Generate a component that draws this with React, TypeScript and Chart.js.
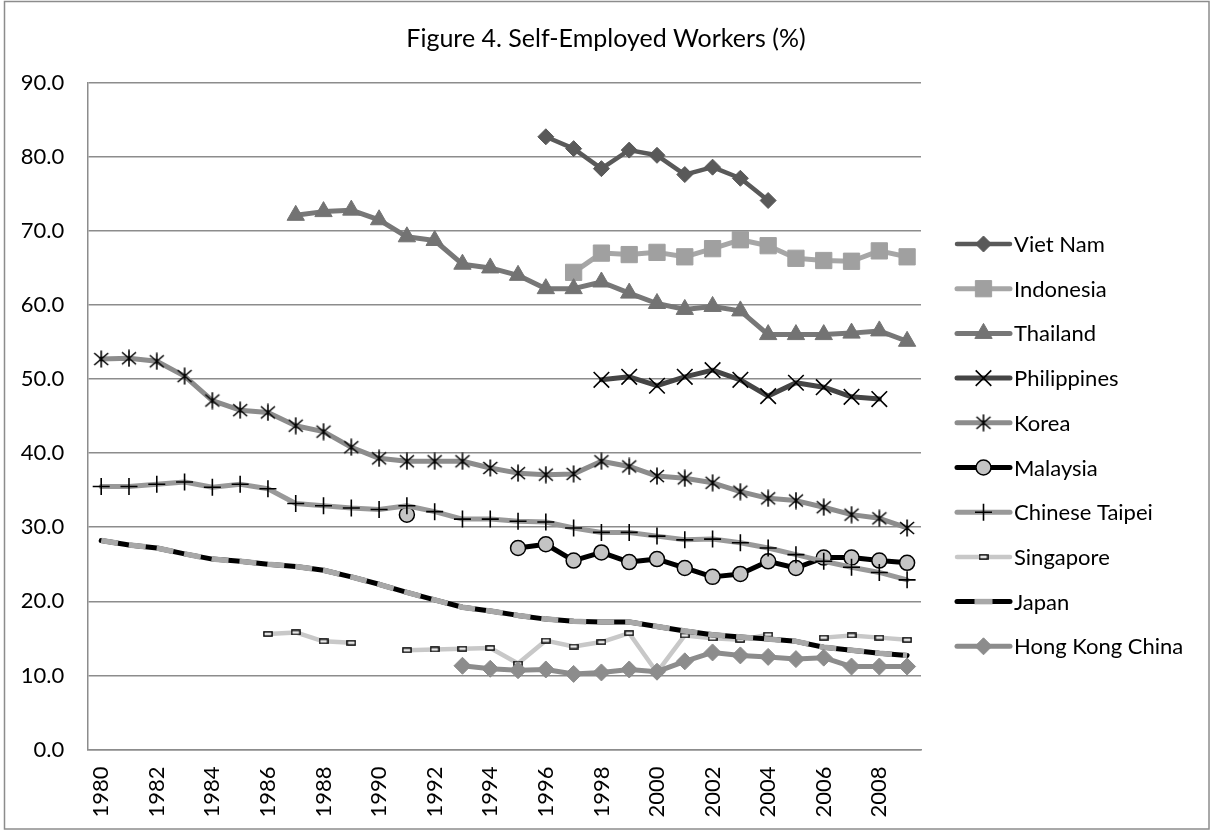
import React, { useEffect, useRef } from 'react';
import { Chart, registerables, PointElement } from 'chart.js';

Chart.register(...registerables);

const TITLE = 'Figure 4. Self-Employed Workers (%)';

const YEARS = [
  '1980', '1981', '1982', '1983', '1984', '1985', '1986', '1987', '1988', '1989',
  '1990', '1991', '1992', '1993', '1994', '1995', '1996', '1997', '1998', '1999',
  '2000', '2001', '2002', '2003', '2004', '2005', '2006', '2007', '2008', '2009',
];

const Y_TICKS = [0, 10, 20, 30, 40, 50, 60, 70, 80, 90];

const N = null;

const VIET_NAM = [N, N, N, N, N, N, N, N, N, N, N, N, N, N, N, N,
  82.7, 81.1, 78.4, 80.9, 80.2, 77.6, 78.6, 77.1, 74.1, N, N, N, N, N];

const INDONESIA = [N, N, N, N, N, N, N, N, N, N, N, N, N, N, N, N, N,
  64.4, 67.0, 66.8, 67.1, 66.5, 67.6, 68.8, 68.0, 66.3, 66.0, 65.9, 67.3, 66.5];

const THAILAND = [N, N, N, N, N, N, N,
  72.1, 72.6, 72.8, 71.5, 69.2, 68.7, 65.5, 65.0, 64.0, 62.2, 62.2, 63.1, 61.6,
  60.2, 59.4, 59.8, 59.2, 56.0, 56.0, 56.0, 56.2, 56.5, 55.1];

const PHILIPPINES = [N, N, N, N, N, N, N, N, N, N, N, N, N, N, N, N, N, N,
  49.9, 50.3, 49.1, 50.3, 51.2, 49.9, 47.7, 49.5, 48.9, 47.6, 47.3, N];

const KOREA = [52.7, 52.8, 52.4, 50.4, 47.1, 45.8, 45.5, 43.7, 42.9, 40.8,
  39.3, 38.9, 38.9, 38.9, 38.0, 37.3, 37.1, 37.2, 38.9, 38.2,
  36.9, 36.6, 36.0, 34.8, 33.9, 33.6, 32.7, 31.7, 31.2, 29.9];

const MALAYSIA = [N, N, N, N, N, N, N, N, N, N, N, 31.7, N, N, N,
  27.2, 27.7, 25.5, 26.6, 25.3, 25.7, 24.5, 23.3, 23.7, 25.4, 24.5, 25.9, 25.9, 25.5, 25.2];

const CHINESE_TAIPEI = [35.5, 35.5, 35.8, 36.1, 35.4, 35.8, 35.2, 33.2, 32.9, 32.6,
  32.4, 32.9, 32.1, 31.1, 31.1, 30.8, 30.7, 29.9, 29.3, 29.3,
  28.8, 28.3, 28.4, 27.9, 27.2, 26.3, 25.4, 24.6, 23.9, 22.9];

const SINGAPORE = [N, N, N, N, N, N, 15.6, 15.8, 14.6, 14.4, N,
  13.4, 13.5, 13.6, 13.7, 11.6, 14.7, 13.9, 14.5, 15.7, 10.4, 15.4, 15.0, 14.8, 15.5,
  N, 15.1, 15.4, 15.1, 14.8];

const JAPAN = [28.2, 27.6, 27.2, 26.4, 25.7, 25.4, 25.0, 24.7, 24.2, 23.3,
  22.3, 21.2, 20.2, 19.2, 18.7, 18.1, 17.6, 17.3, 17.2, 17.2,
  16.6, 16.0, 15.5, 15.2, 14.9, 14.6, 13.8, 13.4, 13.0, 12.7];

const HONG_KONG = [N, N, N, N, N, N, N, N, N, N, N, N, N,
  11.3, 10.9, 10.7, 10.8, 10.2, 10.4, 10.8, 10.5, 11.9, 13.1, 12.7, 12.5, 12.2, 12.4, 11.2, 11.2, 11.2];

const FONT = 'Lato, "Open Sans", sans-serif';

function makeStar(): HTMLCanvasElement {
  const c = document.createElement('canvas');
  c.width = 18; c.height = 18;
  const g = c.getContext('2d')!;
  g.strokeStyle = '#000';
  g.lineWidth = 1.6;
  g.beginPath();
  g.moveTo(9, 0.5); g.lineTo(9, 17.5);
  g.moveTo(2, 3); g.lineTo(16, 15);
  g.moveTo(16, 3); g.lineTo(2, 15);
  g.stroke();
  return c;
}

function makeSmallRect(): HTMLCanvasElement {
  const c = document.createElement('canvas');
  c.width = 10; c.height = 6;
  const g = c.getContext('2d')!;
  g.fillStyle = '#e6e6e6';
  g.fillRect(1, 1, 8, 4);
  g.strokeStyle = '#000';
  g.lineWidth = 1.4;
  g.strokeRect(0.9, 0.9, 8.2, 4.2);
  return c;
}

const App: React.FC = () => {
  const ref = useRef<HTMLCanvasElement | null>(null);

  useEffect(() => {
    document.body.style.margin = '0';
    const canvas = ref.current;
    if (!canvas) return;

    const star = makeStar();
    const smallRect = makeSmallRect();

    const series: any[] = [
      { label: 'Viet Nam', data: VIET_NAM, borderColor: '#595959', borderWidth: 4.5,
        pointStyle: 'rectRot', pointRadius: 8, pointBackgroundColor: '#595959', pointBorderColor: '#595959', pointBorderWidth: 1 },
      { label: 'Indonesia', data: INDONESIA, borderColor: '#a6a6a6', borderWidth: 5,
        pointStyle: 'rect', pointRadius: 11.5, pointBackgroundColor: '#a0a0a0', pointBorderColor: '#a0a0a0', pointBorderWidth: 1 },
      { label: 'Thailand', data: THAILAND, borderColor: '#777777', borderWidth: 5,
        pointStyle: 'triangle', pointRadius: 10, pointBackgroundColor: '#737373', pointBorderColor: '#737373', pointBorderWidth: 1 },
      { label: 'Philippines', data: PHILIPPINES, borderColor: '#454545', borderWidth: 5,
        pointStyle: 'crossRot', pointRadius: 11, pointBackgroundColor: '#000', pointBorderColor: '#000', pointBorderWidth: 1.6 },
      { label: 'Korea', data: KOREA, borderColor: '#8c8c8c', borderWidth: 5,
        pointStyle: star, pointRadius: 9, pointBackgroundColor: '#000', pointBorderColor: '#000', pointBorderWidth: 1.6 },
      { label: 'Malaysia', data: MALAYSIA, borderColor: '#000000', borderWidth: 5,
        pointStyle: 'circle', pointRadius: 7.5, pointBackgroundColor: '#c4c4c4', pointBorderColor: '#000', pointBorderWidth: 1.5 },
      { label: 'Chinese Taipei', data: CHINESE_TAIPEI, borderColor: '#999999', borderWidth: 5,
        pointStyle: 'cross', pointRadius: 8.5, pointBackgroundColor: '#000', pointBorderColor: '#000', pointBorderWidth: 1.6 },
      { label: 'Singapore', data: SINGAPORE, borderColor: '#c8c8c8', borderWidth: 4.5,
        pointStyle: smallRect, pointRadius: 5, pointBackgroundColor: '#e6e6e6', pointBorderColor: '#000', pointBorderWidth: 1.4 },
      { label: 'Japan', data: JAPAN, borderColor: '#000000', borderWidth: 5,
        pointStyle: 'circle', pointRadius: 0, pointBackgroundColor: '#000', pointBorderColor: '#000', pointBorderWidth: 0,
        dashOverlay: { color: '#a8a8a8', width: 5.5, dash: [17, 11] } },
      { label: 'Hong Kong China', data: HONG_KONG, borderColor: '#8c8c8c', borderWidth: 5,
        pointStyle: 'rectRot', pointRadius: 8.5, pointBackgroundColor: '#8c8c8c', pointBorderColor: '#8c8c8c', pointBorderWidth: 1 },
    ];

    const datasets: any[] = series.map((s, i) => ({
      ...s,
      order: 100 - i,
      fill: false,
      tension: 0,
      spanGaps: false,
      borderJoinStyle: 'round',
      borderCapStyle: 'round',
      pointHoverRadius: s.pointRadius,
    }));

    const dashPlugin = {
      id: 'dashOverlay',
      afterDatasetDraw(chart: any, args: any) {
        const ds = chart.data.datasets[args.index];
        if (!ds || !ds.dashOverlay) return;
        const ctx = chart.ctx as CanvasRenderingContext2D;
        const pts = args.meta.data;
        ctx.save();
        ctx.strokeStyle = ds.dashOverlay.color;
        ctx.lineWidth = ds.dashOverlay.width;
        ctx.lineCap = 'butt';
        ctx.lineJoin = 'round';
        ctx.setLineDash(ds.dashOverlay.dash);
        ctx.beginPath();
        let started = false;
        pts.forEach((p: any, i: number) => {
          if (ds.data[i] == null) { started = false; return; }
          if (!started) { ctx.moveTo(p.x, p.y); started = true; }
          else ctx.lineTo(p.x, p.y);
        });
        ctx.stroke();
        ctx.restore();
      },
    };

    const decor = {
      id: 'decor',
      afterDraw(chart: any) {
        const ctx = chart.ctx as CanvasRenderingContext2D;
        const area = chart.chartArea;
        ctx.save();
        ctx.strokeStyle = '#8c8c8c';
        ctx.lineWidth = 1.5;
        ctx.strokeRect(4.5, 1.5, 1204.5, 827.5);
        ctx.fillStyle = '#000';
        ctx.font = `25px ${FONT}`;
        ctx.textAlign = 'center';
        ctx.textBaseline = 'middle';
        ctx.fillText(TITLE, 606, 39);
        const items = chart.data.datasets;
        const x0 = area.right + 36;
        const x1 = x0 + 53;
        const xm = (x0 + x1) / 2;
        const top = 244;
        const step = 44.7;
        ctx.font = `22px ${FONT}`;
        ctx.textAlign = 'left';
        items.forEach((d: any, i: number) => {
          const y = top + i * step;
          ctx.save();
          ctx.lineCap = 'round';
          ctx.strokeStyle = d.borderColor;
          ctx.lineWidth = d.borderWidth;
          ctx.beginPath();
          ctx.moveTo(x0, y);
          ctx.lineTo(x1, y);
          ctx.stroke();
          if (d.dashOverlay) {
            ctx.lineCap = 'butt';
            ctx.strokeStyle = d.dashOverlay.color;
            ctx.lineWidth = d.dashOverlay.width;
            ctx.beginPath();
            ctx.moveTo(xm - 9, y);
            ctx.lineTo(xm + 9, y);
            ctx.stroke();
          }
          ctx.restore();
          if (d.pointRadius > 0) {
            const pt: any = new (PointElement as any)({});
            pt.x = xm;
            pt.y = y;
            pt.skip = false;
            pt.options = {
              pointStyle: d.pointStyle,
              radius: d.pointRadius,
              rotation: 0,
              borderWidth: d.pointBorderWidth,
              backgroundColor: d.pointBackgroundColor,
              borderColor: d.pointBorderColor,
            };
            pt.draw(ctx, { left: 0, top: 0, right: 5000, bottom: 5000 });
          }
          ctx.fillStyle = '#000';
          ctx.textBaseline = 'middle';
          ctx.fillText(d.label, x1 + 4, y + 1);
        });
        ctx.restore();
      },
    };

    const chart = new Chart(canvas, {
      type: 'line',
      data: { labels: YEARS, datasets },
      options: {
        responsive: false,
        animation: false,
        events: [],
        layout: { padding: { top: 82.7, left: 0, right: 290, bottom: 0 } },
        plugins: {
          legend: { display: false },
          title: { display: false },
          tooltip: { enabled: false },
        },
        scales: {
          x: {
            type: 'category',
            offset: true,
            grid: { display: false, drawTicks: false },
            border: { display: true, color: '#8c8c8c', width: 1.5 },
            ticks: {
              autoSkip: false,
              maxRotation: 90,
              minRotation: 90,
              padding: 17,
              color: '#000',
              font: { family: FONT, size: 22 },
              callback: (_v: any, idx: number) => (idx % 2 === 0 ? YEARS[idx] : ''),
            },
            afterFit: (s: any) => { s.height = 82.5; },
          },
          y: {
            min: Y_TICKS[0],
            max: Y_TICKS[Y_TICKS.length - 1],
            afterBuildTicks: (s: any) => { s.ticks = Y_TICKS.map((v) => ({ value: v })); },
            grid: { color: '#8c8c8c', lineWidth: 1.5, drawTicks: false },
            border: { display: true, color: '#8c8c8c', width: 1.5 },
            ticks: {
              padding: 23,
              color: '#000',
              font: { family: FONT, size: 22 },
              callback: (v: any) => Number(v).toFixed(1),
            },
            afterFit: (s: any) => { s.width = 87.3; },
          },
        },
      },
      plugins: [dashPlugin, decor],
    });

    return () => chart.destroy();
  }, []);

  return (
    <div style={{ width: 1211, height: 832, background: '#fff' }}>
      <canvas ref={ref} width={1211} height={832} style={{ display: 'block', width: 1211, height: 832 }} />
    </div>
  );
};

export default App;
